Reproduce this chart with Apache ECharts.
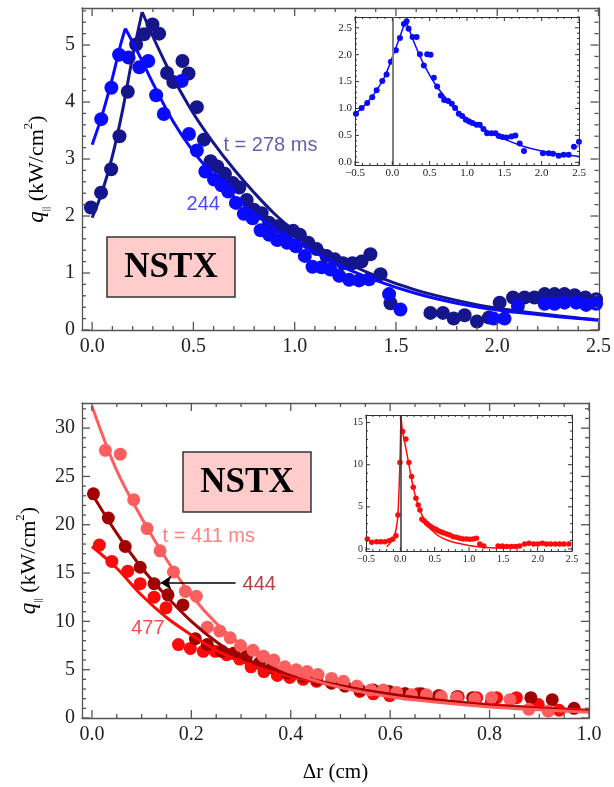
<!DOCTYPE html>
<html><head><meta charset="utf-8">
<script src="https://cdn.jsdelivr.net/npm/echarts@6/dist/echarts.min.js"></script>
<style>html,body{margin:0;padding:0;background:#fff}#c{width:614px;height:787px}</style>
</head><body><div id="c"></div>
<script>
// ---------- TOP PANEL DATA (q_par vs dr, cm) ----------
const pts278 = [[-0.006,2.15],[0.044,2.41],[0.094,2.82],[0.135,3.40],[0.176,4.18],[0.217,5.01],[0.256,5.19],[0.298,5.36],[0.331,5.20],[0.370,4.51],[0.401,4.35],[0.446,4.72],[0.476,4.50],[0.517,3.91],[0.552,3.34],[0.585,2.96],[0.618,2.87],[0.656,2.74],[0.694,2.58],[0.727,2.50],[0.763,2.28],[0.799,2.11],[0.837,2.05],[0.874,1.88],[0.914,1.82],[0.952,1.75],[0.993,1.74],[1.026,1.67],[1.067,1.53],[1.108,1.42],[1.157,1.30],[1.198,1.24],[1.239,1.17],[1.285,1.17],[1.330,1.20],[1.374,1.33],[1.424,0.98],[1.473,0.47],[1.670,0.30],[1.732,0.30],[1.785,0.20],[1.839,0.26],[1.900,0.15],[1.959,0.22],[2.012,0.48],[2.078,0.57],[2.135,0.57],[2.184,0.57],[2.234,0.63],[2.283,0.63],[2.332,0.63],[2.382,0.61],[2.435,0.57],[2.488,0.54]];
const pts244 = [[0.045,3.70],[0.095,4.25],[0.133,4.83],[0.180,4.78],[0.233,4.61],[0.277,4.72],[0.316,4.12],[0.354,3.79],[0.442,4.37],[0.478,3.44],[0.517,3.15],[0.559,2.78],[0.602,2.64],[0.639,2.54],[0.672,2.43],[0.710,2.23],[0.749,2.04],[0.792,1.96],[0.832,1.75],[0.874,1.67],[0.914,1.58],[0.963,1.53],[1.006,1.47],[1.050,1.30],[1.088,1.11],[1.133,1.10],[1.177,1.06],[1.220,0.95],[1.269,0.88],[1.318,0.87],[1.367,0.89],[1.466,0.63],[1.522,0.36],[1.982,0.20],[2.036,0.20],[2.102,0.42],[2.234,0.46],[2.283,0.46],[2.332,0.48],[2.390,0.48],[2.439,0.44],[2.488,0.46]];
const fit278Rise = [[0,1.97],[0.05,2.43],[0.1,3.05],[0.15,3.85],[0.2,4.8],[0.247,5.58]];
const fit278Decay = [[0.247,5.58],[0.3,5.15],[0.35,4.77],[0.4,4.42],[0.5,3.8],[0.6,3.28],[0.7,2.82],[0.8,2.41],[0.9,2.04],[1.0,1.74],[1.2,1.28],[1.4,0.95],[1.6,0.70],[1.8,0.52],[2.0,0.38],[2.2,0.29],[2.4,0.21],[2.5,0.18]];
const fit244Rise = [[0,3.25],[0.05,3.78],[0.1,4.42],[0.14,5.0],[0.164,5.29]];
const fit244Decay = [[0.164,5.29],[0.2,5.05],[0.25,4.7],[0.3,4.33],[0.4,3.66],[0.5,3.13],[0.6,2.71],[0.7,2.34],[0.8,2.04],[0.9,1.79],[1.0,1.57],[1.2,1.17],[1.4,0.87],[1.6,0.64],[1.8,0.47],[2.0,0.35],[2.2,0.27],[2.4,0.2],[2.5,0.17]];
// top inset
const insetTopPts = [[-0.487,0.90],[-0.411,1.01],[-0.336,1.10],[-0.269,1.21],[-0.210,1.34],[-0.135,1.51],[-0.077,1.63],[-0.019,1.87],[0.048,2.08],[0.102,2.31],[0.155,2.57],[0.191,2.62],[0.218,2.48],[0.271,2.33],[0.325,2.33],[0.369,2.01],[0.422,1.80],[0.467,2.01],[0.512,2.00],[0.556,1.57],[0.600,1.41],[0.650,1.24],[0.694,1.16],[0.748,1.14],[0.797,1.09],[0.841,1.01],[0.890,0.90],[0.935,0.86],[0.984,0.79],[1.028,0.76],[1.073,0.73],[1.127,0.70],[1.171,0.70],[1.220,0.62],[1.269,0.54],[1.327,0.54],[1.381,0.54],[1.425,0.49],[1.474,0.47],[1.528,0.46],[1.595,0.48],[1.648,0.50],[1.706,0.35],[1.763,0.21],[2.017,0.17],[2.094,0.17],[2.151,0.16],[2.227,0.12],[2.294,0.14],[2.361,0.14],[2.432,0.29],[2.499,0.38]];
const insetTopFitRise = [[-0.5,0.90],[-0.4,1.02],[-0.3,1.17],[-0.2,1.36],[-0.1,1.60],[0,1.95],[0.1,2.33],[0.18,2.64]];
const insetTopFitDecay = [[0.18,2.64],[0.3,2.2],[0.4,1.88],[0.5,1.62],[0.6,1.40],[0.75,1.14],[0.9,0.92],[1.0,0.82],[1.25,0.6],[1.5,0.43],[1.75,0.30],[2.0,0.21],[2.25,0.15],[2.5,0.11]];

// ---------- BOTTOM PANEL DATA ----------
const pts411 = [[0.027,27.7],[0.057,27.3],[0.084,22.6],[0.111,19.6],[0.137,17.3],[0.164,15.1],[0.188,13.1],[0.210,12.6],[0.232,9.4],[0.257,9.0],[0.278,8.3],[0.299,7.5],[0.324,7.0],[0.345,6.4],[0.366,6.0],[0.388,5.3],[0.411,5.0],[0.433,4.8],[0.455,4.5],[0.482,4.1],[0.506,3.8],[0.533,3.3],[0.561,2.9],[0.586,2.9],[0.613,2.65],[0.643,2.4],[0.673,2.4],[0.703,2.2],[0.734,2.1],[0.770,2.0],[0.804,2.1],[0.841,1.9],[0.879,0.9],[0.918,0.7]];
const pts444 = [[0.003,23.2],[0.033,20.7],[0.067,17.75],[0.097,15.6],[0.125,13.9],[0.153,12.75],[0.183,11.7],[0.208,8.2],[0.232,7.6],[0.261,6.9],[0.285,6.7],[0.311,6.4],[0.337,5.7],[0.362,5.2],[0.392,4.65],[0.425,4.3],[0.452,3.96],[0.482,3.6],[0.509,3.3],[0.539,2.9],[0.566,2.9],[0.598,2.75],[0.630,2.5],[0.663,2.5],[0.697,2.3],[0.734,2.2],[0.766,2.1],[0.804,1.7],[0.883,2.1],[0.926,1.9],[0.970,1.0]];
const pts477 = [[0.015,17.9],[0.040,16.2],[0.072,15.2],[0.097,13.9],[0.125,12.5],[0.149,11.4],[0.174,7.6],[0.198,7.2],[0.224,6.9],[0.248,6.9],[0.271,6.55],[0.297,6.1],[0.320,5.3],[0.346,4.8],[0.373,4.4],[0.398,4.2],[0.425,4.0],[0.452,3.8],[0.539,2.75],[0.566,2.5],[0.599,2.3],[0.630,2.5],[0.656,2.5],[0.700,2.3],[0.737,2.2],[0.774,2.1],[0.814,2.1],[0.854,2.1],[0.898,1.4],[0.940,0.8]];
const fit411 = [[0,32.3],[0.05,25.6],[0.1,20.7],[0.15,16.4],[0.2,12.7],[0.25,9.8],[0.3,7.6],[0.35,5.9],[0.4,4.7],[0.5,3.15],[0.6,2.2],[0.7,1.6],[0.8,1.15],[0.9,0.85],[1.0,0.6]];
const fit444 = [[0,23.2],[0.05,19.1],[0.1,15.55],[0.15,12.6],[0.2,10.0],[0.25,7.9],[0.3,6.3],[0.35,5.3],[0.4,4.5],[0.5,3.35],[0.6,2.45],[0.7,1.8],[0.8,1.3],[0.9,0.95],[1.0,0.68]];
const fit477 = [[0,17.75],[0.05,15.5],[0.1,12.7],[0.15,10.4],[0.2,8.6],[0.25,7.0],[0.3,5.85],[0.35,4.95],[0.4,4.3],[0.5,3.25],[0.6,2.45],[0.7,1.85],[0.8,1.4],[0.9,1.05],[1.0,0.8]];
const insetBotPts = [[-0.481,1.19],[-0.417,0.79],[-0.345,0.87],[-0.287,0.87],[-0.224,0.87],[-0.161,0.99],[-0.112,1.15],[-0.064,1.58],[-0.035,4.04],[-0.006,10.25],[0.033,13.93],[0.081,13.06],[0.125,10.25],[0.164,8.59],[0.188,7.33],[0.227,6.02],[0.260,5.23],[0.285,4.63],[0.314,3.52],[0.348,3.32],[0.382,3.05],[0.412,2.85],[0.445,2.65],[0.479,2.45],[0.517,2.33],[0.551,2.17],[0.590,2.05],[0.623,1.94],[0.673,1.78],[0.721,1.66],[0.770,1.46],[0.818,1.39],[0.866,1.27],[0.914,1.19],[0.963,1.19],[1.012,1.15],[1.060,1.19],[1.109,1.27],[1.157,0.59],[1.215,0.36],[1.423,0.36],[1.487,0.36],[1.554,0.28],[1.618,0.28],[1.680,0.28],[1.738,0.36],[1.811,0.59],[1.874,0.67],[1.942,0.59],[2.005,0.59],[2.068,0.67],[2.127,0.59],[2.190,0.59],[2.258,0.59],[2.320,0.59],[2.383,0.59],[2.455,0.59]];
const insetBotFitRise = [[-0.2,0.27],[-0.14,0.79],[-0.09,1.5],[-0.06,2.4],[-0.035,4.04],[-0.006,10.25],[0.009,15.8]];
const insetBotFitDecay = [[0.009,15.8],[0.033,13.9],[0.08,12.0],[0.125,10.0],[0.2,6.9],[0.3,4.3],[0.4,2.85],[0.5,1.9],[0.6,1.35],[0.75,0.85],[1.0,0.42],[1.25,0.18],[1.55,0.1]];
const arrow444 = [[0.289,14.0],[0.138,14.0]];
const labelsTop = [{t:'t = 278 ms', p:[0.646,3.23], c:'#3a3a9c'},{t:'244', p:[0.464,2.21], c:'#1a1aff'}];
const labelsBot = [{t:'t = 411 ms', p:[0.141,18.8], c:'#ff6262'},{t:'444', p:[0.302,13.8], c:'#a01414'},{t:'477', p:[0.078,9.25], c:'#ff1a1a'}];

// ---------- FRAME TICK SPECS: [first, last, step] for major and minor ticks ----------
const tickSpec = [
  {x:{maj:[0,2.5,0.5], min:[0,2.5,0.1]}, y:{maj:[0,5,1], min:[0,5.6,0.2]}},
  {x:{maj:[-0.5,2.5,0.5], min:[-0.5,2.5,0.1]}, y:{maj:[0,2.5,0.5], min:[0,2.7,0.1]}},
  {x:{maj:[0,1,0.2], min:[0,1,0.05]}, y:{maj:[0,30,5], min:[0,32,1]}},
  {x:{maj:[-0.5,2.5,0.5], min:[-0.5,2.5,0.1]}, y:{maj:[0,15,5], min:[0,15,1]}}
];

const SERIF = 'Liberation Serif';
const SANS = 'Liberation Sans';

function fmtStep(step, dec){
  return function(v){ const k = v/step; if (Math.abs(k-Math.round(k))>1e-6) return ''; if (Math.abs(v)<1e-9) return (0).toFixed(dec); return (v<0?'\u2212':'') + Math.abs(v).toFixed(dec); };
}
function mkAxis(grid, pos, o){
  const showLab = (pos==='bottom'||pos==='left');
  const a = {
    type:'value', gridIndex:grid, position:pos, min:o.min, max:o.max,
    axisLine:{show:true, onZero:false, lineStyle:{color:o.color, width:o.lw}},
    axisTick:{show:false}, minorTick:{show:false},
    splitLine:{show:false},
    axisLabel:{show:showLab, formatter:fmtStep(o.step,o.dec), fontSize:o.fs, color:'#222', margin:o.margin}
  };
  if (o.interval!=null) a.interval = o.interval; else a.splitNumber = o.split;
  if (o.name && showLab) Object.assign(a, o.name);
  return a;
}
const yName = {
  name:'{q|q}{s|||}{n| (kW/cm}{p|2}{n|)}', nameLocation:'middle', nameRotate:90, nameGap:30,
  nameTextStyle:{ rich:{
    q:{fontFamily:SERIF, fontStyle:'italic', fontSize:23, color:'#000', lineHeight:30},
    s:{fontFamily:SERIF, fontSize:11, color:'#000', lineHeight:11, verticalAlign:'bottom'},
    n:{fontFamily:SERIF, fontSize:22, color:'#000', lineHeight:30},
    p:{fontFamily:SERIF, fontSize:13, color:'#000', lineHeight:13, verticalAlign:'top'}
  }}
};
const mainStyle = {color:'#555', lw:1.3, tl:8, mtl:4, fs:20, margin:7};
const insStyle = {color:'#333', lw:1, tl:4, mtl:2, fs:11, margin:3};

const rects = [
  {left:82, top:8, width:517, height:322},
  {left:355, top:17, width:224, height:148, show:true, backgroundColor:'#fff', borderWidth:0},
  {left:82, top:403, width:507, height:315},
  {left:366, top:415, width:206, height:136, show:true, backgroundColor:'#fff', borderWidth:0}
];
const ax = [
  {x:{min:-0.05,max:2.5,split:5,step:0.5,dec:1}, y:{min:0,max:5.65,interval:1,step:1,dec:0,name:yName}, s:mainStyle},
  {x:{min:-0.5,max:2.5,interval:0.5,step:0.5,dec:1}, y:{min:-0.05,max:2.7,split:5,step:0.5,dec:1}, s:insStyle},
  {x:{min:-0.02,max:1.0,split:5,step:0.2,dec:1,name:{name:'\u0394r (cm)',nameLocation:'middle',nameGap:44,nameTextStyle:{fontFamily:SERIF,fontSize:21,color:'#000'}}}, y:{min:0,max:32.6,interval:5,step:5,dec:0,name:yName}, s:mainStyle},
  {x:{min:-0.5,max:2.5,interval:0.5,step:0.5,dec:1}, y:{min:-0.24,max:15.9,split:3,step:5,dec:0}, s:Object.assign({},insStyle,{fs:10})}
];
const grids=[], xAxes=[], yAxes=[], xIdx=[], yIdx=[];
ax.forEach(function(g,i){
  const gMain = grids.length; grids.push(Object.assign({}, rects[i]));
  const gMir = grids.length; grids.push({left:rects[i].left, top:rects[i].top, width:rects[i].width, height:rects[i].height});
  xIdx.push(xAxes.length);
  xAxes.push(mkAxis(gMain,'bottom',Object.assign({},g.s,g.x)));
  xAxes.push(mkAxis(gMir,'top',Object.assign({},g.s,g.x)));
  yIdx.push(yAxes.length);
  yAxes.push(mkAxis(gMain,'left',Object.assign({},g.s,g.y)));
  yAxes.push(mkAxis(gMir,'right',Object.assign({},g.s,g.y)));
});

function sc(g, data, color, size, extra){ return Object.assign({type:'scatter', xAxisIndex:xIdx[g], yAxisIndex:yIdx[g], data:data, symbolSize:size, itemStyle:{color:color, opacity:1}, z:2}, extra||{}); }
function ln(g, data, color, w, extra){ return Object.assign({type:'line', xAxisIndex:xIdx[g], yAxisIndex:yIdx[g], data:data, showSymbol:false, symbol:'none', smooth:0.35, lineStyle:{color:color, width:w}, itemStyle:{color:color}, z:3}, extra||{}); }
function txt(g, L){ return {type:'scatter', xAxisIndex:xIdx[g], yAxisIndex:yIdx[g], symbolSize:1, itemStyle:{color:'rgba(0,0,0,0)'}, z:5,
  data:L.map(function(l){ return {value:l.p, label:{show:true, position:'right', distance:0, formatter:l.t, color:l.c, fontFamily:SANS, fontSize:20}}; })}; }
function vmark(color, w){ return {silent:true, symbol:'none', label:{show:false}, lineStyle:{color:color, width:w, type:'solid'}, data:[{xAxis:0}]}; }

const NAVY='#15158c', BLUE='#0a0aff', SALMON='#ff5e5e', DARKRED='#a00000', RED='#ff0a0a';
const series = [
  sc(0, pts278, NAVY, 14), sc(0, pts244, BLUE, 14),
  ln(0, fit278Rise, NAVY, 3), ln(0, fit278Decay, NAVY, 3),
  ln(0, fit244Rise, BLUE, 3), ln(0, fit244Decay, BLUE, 3),
  txt(0, labelsTop),
  sc(1, insetTopPts, BLUE, 6, {markLine:vmark('#808080', 2)}),
  ln(1, insetTopFitRise, BLUE, 1.5), ln(1, insetTopFitDecay, BLUE, 1.5),
  sc(2, pts477, RED, 13), sc(2, pts444, DARKRED, 13), sc(2, pts411, SALMON, 13),
  ln(2, fit477, RED, 3), ln(2, fit444, DARKRED, 3, {markLine:{silent:true, symbol:['none','arrow'], symbolSize:11, label:{show:false}, lineStyle:{color:'#000', width:1.5, type:'solid'}, data:[[{coord:arrow444[0]},{coord:arrow444[1]}]]}}),
  ln(2, fit411, SALMON, 3),
  txt(2, labelsBot),
  sc(3, insetBotPts, RED, 5.5, {markLine:vmark('#333', 1.5)}),
  ln(3, insetBotFitRise, RED, 1.5), ln(3, insetBotFitDecay, RED, 1.5)
];

function nstx(x,y){ return [
  {type:'rect', shape:{x:x, y:y, width:128, height:60}, style:{fill:'#ffcccc', stroke:'#333', lineWidth:1.5}, z:50},
  {type:'text', x:x+64, y:y+31, style:{text:'NSTX', font:'bold 35px "Liberation Serif"', fill:'#000', align:'center', verticalAlign:'middle', textAlign:'center', textVerticalAlign:'middle', textShadowColor:'rgba(0,0,0,0.35)', textShadowOffsetX:1.5, textShadowOffsetY:1.5}, z:51}
]; }
const boxes = nstx(107,237).concat(nstx(183,452));

const chart = echarts.init(document.getElementById('c'));
chart.setOption({
  animation:false,
  textStyle:{fontFamily:SERIF},
  grid:grids, xAxis:xAxes, yAxis:yAxes, series:series,
  graphic:boxes
});

// frame ticks (inside, all four sides), positioned through the axes' own scales
function tickList(r){ const out=[]; const n=Math.round((r[1]-r[0])/r[2]); for(let k=0;k<=n;k++) out.push(+(r[0]+k*r[2]).toFixed(6)); return out; }
const tickEls = [];
ax.forEach(function(g,i){
  const sp = tickSpec[i], st = g.s;
  const finder = {xAxisIndex:xIdx[i], yAxisIndex:yIdx[i]};
  const P = function(x,y){ return chart.convertToPixel(finder, [x,y]); };
  const xr = [g.x.min, g.x.max], yr = [g.y.min, g.y.max];
  const sty = {stroke:st.color, lineWidth:st.lw};
  const xm = tickList(sp.x.maj), ym = tickList(sp.y.maj);
  const isMaj = function(arr, v){ return arr.some(function(m){ return Math.abs(m-v)<1e-6; }); };
  const xt = xm.map(function(v){return [v, st.tl];}).concat(tickList(sp.x.min).filter(function(v){return !isMaj(xm,v);}).map(function(v){return [v, st.mtl];}));
  const yt = ym.map(function(v){return [v, st.tl];}).concat(tickList(sp.y.min).filter(function(v){return !isMaj(ym,v);}).map(function(v){return [v, st.mtl];}));
  xt.forEach(function(t){
    const b = P(t[0], yr[0]), u = P(t[0], yr[1]);
    if (!b || !u) return;
    tickEls.push({type:'line', silent:true, z:60, shape:{x1:b[0], y1:b[1], x2:b[0], y2:b[1]-t[1]}, style:sty});
    tickEls.push({type:'line', silent:true, z:60, shape:{x1:u[0], y1:u[1], x2:u[0], y2:u[1]+t[1]}, style:sty});
  });
  yt.forEach(function(t){
    const l = P(xr[0], t[0]), r = P(xr[1], t[0]);
    if (!l || !r) return;
    tickEls.push({type:'line', silent:true, z:60, shape:{x1:l[0], y1:l[1], x2:l[0]+t[1], y2:l[1]}, style:sty});
    tickEls.push({type:'line', silent:true, z:60, shape:{x1:r[0], y1:r[1], x2:r[0]-t[1], y2:r[1]}, style:sty});
  });
});
chart.setOption({graphic: boxes.concat(tickEls)});
</script></body></html>
